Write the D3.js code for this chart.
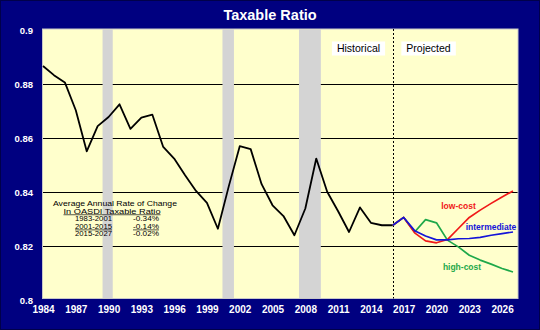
<!DOCTYPE html>
<html><head><meta charset="utf-8">
<script src="https://cdn.jsdelivr.net/npm/d3@7"></script>
<style>
html,body{margin:0;padding:0;background:#000080;}
svg{display:block;font-family:Arial,"Liberation Sans",sans-serif;}
</style></head>
<body>
<svg id="c" width="540" height="330"></svg>
<script>
// ---- data ----
const histYears = d3.range(1984, 2017);
const histValues = [0.8865,0.8831,0.8804,0.8701,0.8549,0.8642,0.8676,0.8723,0.8632,0.8674,0.8685,0.8565,
  0.8522,0.8460,0.8402,0.8358,0.8262,0.8420,0.8568,0.8557,0.8427,0.8349,0.8309,0.8238,0.8337,0.8522,
  0.8399,0.8327,0.8250,0.8341,0.8284,0.8275,0.8275];
const projYears = d3.range(2016, 2028);
const intermediate = [0.8275,0.8304,0.8255,0.8235,0.8221,0.8221,0.8225,0.8226,0.8230,0.8238,0.8244,0.8250];
const lowCost      = [0.8275,0.8304,0.8247,0.8217,0.8210,0.8222,0.8263,0.8304,0.8331,0.8356,0.8380,0.8402];
const highCost     = [0.8275,0.8304,0.8250,0.8296,0.8284,0.8220,0.8195,0.8164,0.8146,0.8131,0.8115,0.8102];
const recessionStart = [1989.45, 2000.42, 2007.42];
const recessionEnd   = [1990.38, 2001.47, 2009.42];
const yTicks = [0.8, 0.82, 0.84, 0.86, 0.88, 0.9];
const yTickLabels = ["0.8","0.82","0.84","0.86","0.88","0.9"];
const xTicks = d3.range(1984, 2027, 3);
const divideYear = 2016;
const rateLabels = ["1983-2001","2001-2015","2015-2027"];
const rateValues = ["-0.34%","-0.14%","-0.02%"];

// ---- layout ----
const svg = d3.select("#c");
const plot = {left:42.5, right:518, top:29, bottom:298.5};
const x = d3.scaleLinear().domain([1984, 2027]).range([43, 513]);
const y = d3.scaleLinear().domain([0.8, 0.9]).range([299.5, 29.5]);

svg.append("rect").attr("x",0.5).attr("y",0.5).attr("width",539).attr("height",329)
  .attr("fill","#000080").attr("stroke","#00004a");

svg.append("text").attr("x",270).attr("y",19.5).attr("text-anchor","middle")
  .attr("fill","#fff").attr("font-weight","bold").attr("font-size","14.5px").text("Taxable Ratio");

svg.append("rect").attr("x",plot.left).attr("y",plot.top)
  .attr("width",plot.right-plot.left).attr("height",plot.bottom-plot.top)
  .attr("fill","#ffffcc");

// grid
svg.append("g").selectAll("line").data(yTicks.filter(d=>d>0.8 && d<0.9)).join("line")
  .attr("x1",plot.left).attr("x2",plot.right)
  .attr("y1",d=>Math.round(y(d))+0.5).attr("y2",d=>Math.round(y(d))+0.5)
  .attr("stroke","#000").attr("stroke-width",1);

// recession bars
svg.append("g").selectAll("rect").data(recessionStart).join("rect")
  .attr("x",(d)=>x(d)).attr("width",(d,i)=>x(recessionEnd[i])-x(d))
  .attr("y",plot.top+0.5).attr("height",plot.bottom-plot.top-1)
  .attr("fill","#d4d4d4");

// plot border
svg.append("rect").attr("x",plot.left).attr("y",plot.top)
  .attr("width",plot.right-plot.left).attr("height",plot.bottom-plot.top)
  .attr("fill","none").attr("stroke","#c8c8c8").attr("stroke-width",1);

// divider
svg.append("line").attr("x1",Math.round(x(divideYear))+0.5).attr("x2",Math.round(x(divideYear))+0.5)
  .attr("y1",plot.top).attr("y2",plot.bottom)
  .attr("stroke","#000").attr("stroke-dasharray","2,2").attr("stroke-width",1);

// Historical / Projected labels
const hp = [{t:"Historical",cx:358.5},{t:"Projected",cx:428.5}];
hp.forEach(o=>{
  const g = svg.append("g");
  const txt = g.append("text").attr("x",o.cx).attr("y",52).attr("text-anchor","middle")
    .attr("font-size","10.5px").attr("fill","#000").text(o.t);
  const bb = txt.node().getBBox();
  g.insert("rect","text").attr("x",bb.x-5).attr("y",41.5).attr("width",bb.width+10).attr("height",14).attr("fill","#fff");
});

// rate table
const tg = svg.append("g").attr("font-size","6.6px").attr("fill","#000");
tg.append("text").attr("x",115).attr("y",206).attr("text-anchor","middle")
  .attr("textLength",124).attr("lengthAdjust","spacingAndGlyphs").text("Average Annual Rate of Change");
tg.append("text").attr("x",112).attr("y",213.5).attr("text-anchor","middle")
  .attr("textLength",97).attr("lengthAdjust","spacingAndGlyphs")
  .attr("text-decoration","underline").text("In OASDI Taxable Ratio");
rateLabels.forEach((lab,i)=>{
  const yy = 221 + i*7.6;
  tg.append("text").attr("x",93.5).attr("y",yy).attr("text-anchor","middle")
    .attr("textLength",37).attr("lengthAdjust","spacingAndGlyphs")
    .attr("text-decoration", i===1?"underline":null).text(lab);
  tg.append("text").attr("x",146).attr("y",yy).attr("text-anchor","middle")
    .attr("textLength",26).attr("lengthAdjust","spacingAndGlyphs")
    .attr("text-decoration", i===1?"underline":null).text(rateValues[i]);
});

// lines
const line = d3.line().x(d=>x(d[0])).y(d=>y(d[1]));
svg.append("path").datum(histYears.map((yr,i)=>[yr,histValues[i]])).attr("d",line)
  .attr("fill","none").attr("stroke","#000").attr("stroke-width",1.8).attr("stroke-linejoin","round");
const proj = [
  {v:highCost, c:"#1ea84a"},
  {v:lowCost, c:"#f01818"},
  {v:intermediate, c:"#1414d8"}
];
proj.forEach(p=>{
  svg.append("path").datum(projYears.map((yr,i)=>[yr,p.v[i]])).attr("d",line)
    .attr("fill","none").attr("stroke",p.c).attr("stroke-width",1.7).attr("stroke-linejoin","round");
});

// series labels
const sl = svg.append("g").attr("font-size","8.5px").attr("font-weight","bold");
sl.append("text").attr("x",458.5).attr("y",209).attr("text-anchor","middle").attr("fill","#f01818").text("low-cost");
sl.append("text").attr("x",491).attr("y",229.5).attr("text-anchor","middle").attr("fill","#1414d8").text("intermediate");
sl.append("text").attr("x",462).attr("y",269.5).attr("text-anchor","middle").attr("fill","#1ea84a").text("high-cost");

// axes
const yAxis = d3.axisLeft(y).tickValues(yTicks).tickFormat((d,i)=>yTickLabels[i]).tickSize(0).tickPadding(0);
const ya = svg.append("g").attr("transform","translate(33,1)").call(yAxis);
ya.select(".domain").remove();
ya.selectAll("text").attr("fill","#fff").attr("font-size","9.5px").attr("font-weight","bold")
  .attr("font-family","Arial,'Liberation Sans',sans-serif");

const xAxis = d3.axisBottom(x).tickValues(xTicks).tickFormat(d3.format("d")).tickSize(0).tickPadding(0);
const xa = svg.append("g").attr("transform","translate(0,305.5)").call(xAxis);
xa.select(".domain").remove();
xa.selectAll("text").attr("fill","#fff").attr("font-size","10px").attr("font-weight","bold")
  .attr("font-family","Arial,'Liberation Sans',sans-serif");
</script>
</body></html>
